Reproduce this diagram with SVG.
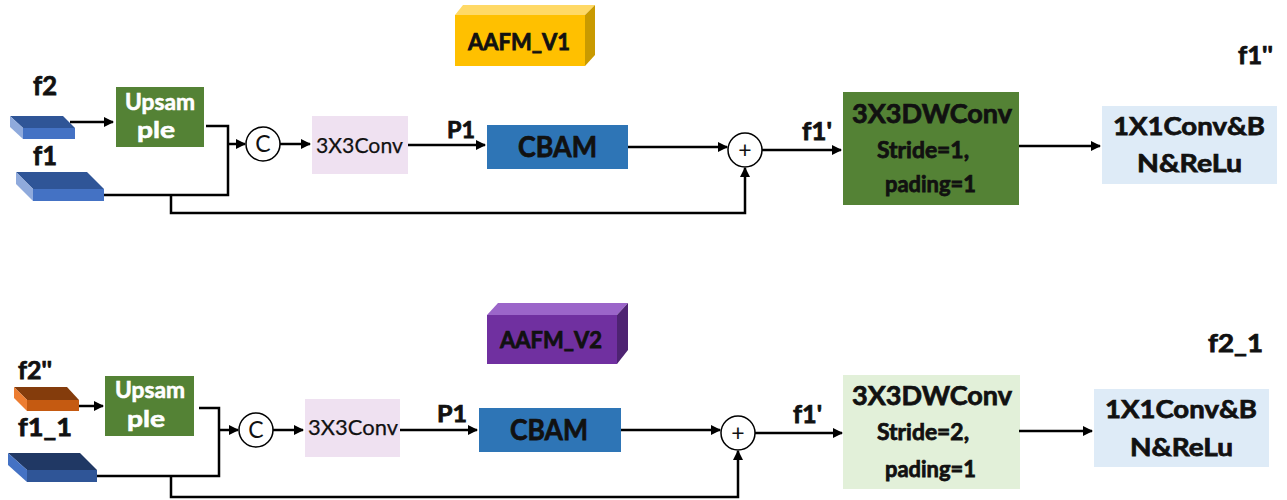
<svg xmlns="http://www.w3.org/2000/svg" width="1287" height="500" viewBox="0 0 1287 500">
  <defs>
    <marker id="arr" viewBox="0 0 10 10" refX="9" refY="5" markerWidth="4" markerHeight="4" orient="auto" markerUnits="strokeWidth">
      <path d="M0,0 L10,5 L0,10 z" fill="#000"/>
    </marker>
    <style>
      text { font-family: Lato, "Open Sans", sans-serif; }
      .t { font-weight: bold; fill: #111; stroke: #111; stroke-width: 0.75; }
      .w { font-weight: bold; fill: #fff; stroke: #fff; stroke-width: 0.6; font-size: 23px; }
      .conv { font-size: 22px; fill: #111; stroke: #111; stroke-width: 0.25; }
      .op { font-size: 23px; fill: #111; text-anchor: middle; }
      .ln { fill: none; stroke: #000; stroke-width: 2.5; }
      .circ { fill: #fff; stroke: #000; stroke-width: 1.5; }
    </style>
  </defs>

  <rect width="1287" height="500" fill="#fff"/>

  <!-- ===== AAFM_V1 ===== -->
  <g id="title-v1">
    <polygon points="463,5 595,5 585,15 455,15" fill="#FFD966"/>
    <polygon points="585,15 595,5 595,55 585,66" fill="#C99A00"/>
    <rect x="455" y="15" width="130" height="51" fill="#FFC000"/>
    <text class="t" x="468" y="50" font-size="22" textLength="102" lengthAdjust="spacingAndGlyphs">AAFM_V1</text>
  </g>

  <g id="in-f2">
    <text class="t" x="33" y="95" font-size="26" textLength="24" lengthAdjust="spacingAndGlyphs">f2</text>
    <polygon points="10,116 63,116 75,128 23,128" fill="#2F5597"/>
    <polygon points="10,116 23,128 23,139 10,127" fill="#8FAADC"/>
    <rect x="23" y="128" width="52" height="11" fill="#4472C4"/>
  </g>

  <g id="in-f1">
    <text class="t" x="33" y="165" font-size="26" textLength="24" lengthAdjust="spacingAndGlyphs">f1</text>
    <polygon points="16,172 87,172 104,189 33,189" fill="#2F5597"/>
    <polygon points="16,172 33,189 33,201 16,184" fill="#8FAADC"/>
    <rect x="33" y="189" width="71" height="12" fill="#4472C4"/>
  </g>

  <g id="upsample-1">
    <rect x="116" y="87" width="88" height="60" fill="#548235"/>
    <text class="w" x="125" y="110" textLength="70" lengthAdjust="spacingAndGlyphs">Upsam</text>
    <text class="w" x="137" y="138" textLength="38" lengthAdjust="spacingAndGlyphs">ple</text>
  </g>

  <g id="concat-1">
    <circle class="circ" cx="263" cy="144" r="17"/>
    <text class="op" x="263" y="152">C</text>
  </g>

  <g id="conv3-1">
    <rect x="312" y="116" width="96" height="58" fill="#EFE1F1"/>
    <text class="conv" x="316" y="153" textLength="87" lengthAdjust="spacingAndGlyphs">3X3Conv</text>
  </g>

  <g id="cbam-1">
    <rect x="487" y="125" width="141" height="44" fill="#2E75B6"/>
    <text class="t" x="518" y="157" font-size="29" textLength="79" lengthAdjust="spacingAndGlyphs">CBAM</text>
  </g>

  <g id="add-1">
    <circle class="circ" cx="745" cy="150" r="17"/>
    <text class="op" x="745" y="158" font-size="26">+</text>
  </g>

  <g id="dwconv-1">
    <rect x="843" y="92" width="176" height="113" fill="#548235"/>
    <text class="t" x="852" y="123" font-size="26.5" textLength="160" lengthAdjust="spacingAndGlyphs">3X3DWConv</text>
    <text class="t" x="877" y="158" font-size="22" textLength="92" lengthAdjust="spacingAndGlyphs">Stride=1,</text>
    <text class="t" x="885" y="192" font-size="22" textLength="91" lengthAdjust="spacingAndGlyphs">pading=1</text>
  </g>

  <g id="pwconv-1">
    <rect x="1102" y="106" width="175" height="78" fill="#DEEBF7"/>
    <text class="t" x="1113" y="135" font-size="25.5" textLength="152" lengthAdjust="spacingAndGlyphs">1X1Conv&amp;B</text>
    <text class="t" x="1137" y="172" font-size="25.5" textLength="105" lengthAdjust="spacingAndGlyphs">N&amp;ReLu</text>
  </g>

  <text id="out-f1pp" class="t" x="1238" y="64" font-size="24" textLength="35" lengthAdjust="spacingAndGlyphs">f1''</text>
  <text class="t" x="447" y="138" font-size="22" textLength="28" lengthAdjust="spacingAndGlyphs">P1</text>
  <text class="t" x="802" y="140" font-size="24" textLength="30" lengthAdjust="spacingAndGlyphs">f1'</text>

  <!-- ===== AAFM_V2 ===== -->
  <g id="title-v2">
    <polygon points="498,303 628,303 617,315 487,315" fill="#9B65C9"/>
    <polygon points="617,315 628,303 628,350 617,364" fill="#4E2372"/>
    <rect x="487" y="315" width="130" height="49" fill="#7030A0"/>
    <text class="t" x="500" y="348" font-size="22" textLength="102" lengthAdjust="spacingAndGlyphs">AAFM_V2</text>
  </g>

  <g id="in-f2pp">
    <text class="t" x="18" y="379" font-size="25" textLength="34" lengthAdjust="spacingAndGlyphs">f2''</text>
    <polygon points="14,387 67,387 79,400 27,400" fill="#843C0C"/>
    <polygon points="14,387 27,400 27,411 14,398" fill="#ED7D31"/>
    <rect x="27" y="400" width="52" height="11" fill="#C55A11"/>
  </g>

  <g id="in-f1_1">
    <text class="t" x="18" y="436" font-size="25" textLength="54" lengthAdjust="spacingAndGlyphs">f1_1</text>
    <polygon points="8,453 80,453 97,470 27,470" fill="#203864"/>
    <polygon points="8,453 27,470 27,482 8,465" fill="#4472C4"/>
    <rect x="27" y="470" width="70" height="12" fill="#2F5597"/>
  </g>

  <g id="upsample-2">
    <rect x="105" y="376" width="89" height="60" fill="#548235"/>
    <text class="w" x="115" y="398" textLength="70" lengthAdjust="spacingAndGlyphs">Upsam</text>
    <text class="w" x="127" y="427" textLength="38" lengthAdjust="spacingAndGlyphs">ple</text>
  </g>

  <g id="concat-2">
    <circle class="circ" cx="256" cy="430" r="17"/>
    <text class="op" x="256" y="438">C</text>
  </g>

  <g id="conv3-2">
    <rect x="305" y="399" width="95" height="58" fill="#EFE1F1"/>
    <text class="conv" x="308" y="435" textLength="90" lengthAdjust="spacingAndGlyphs">3X3Conv</text>
  </g>

  <g id="cbam-2">
    <rect x="479" y="408" width="142" height="44" fill="#2E75B6"/>
    <text class="t" x="510" y="440" font-size="29" textLength="78" lengthAdjust="spacingAndGlyphs">CBAM</text>
  </g>

  <g id="add-2">
    <circle class="circ" cx="738" cy="433" r="17"/>
    <text class="op" x="738" y="441" font-size="26">+</text>
  </g>

  <g id="dwconv-2">
    <rect x="843" y="375" width="177" height="114" fill="#E2F0D9"/>
    <text class="t" x="852" y="405" font-size="26.5" textLength="160" lengthAdjust="spacingAndGlyphs">3X3DWConv</text>
    <text class="t" x="877" y="440" font-size="22" textLength="92" lengthAdjust="spacingAndGlyphs">Stride=2,</text>
    <text class="t" x="885" y="477" font-size="22" textLength="91" lengthAdjust="spacingAndGlyphs">pading=1</text>
  </g>

  <g id="pwconv-2">
    <rect x="1094" y="389" width="175" height="78" fill="#DEEBF7"/>
    <text class="t" x="1105" y="418" font-size="25.5" textLength="152" lengthAdjust="spacingAndGlyphs">1X1Conv&amp;B</text>
    <text class="t" x="1130" y="456" font-size="25.5" textLength="103" lengthAdjust="spacingAndGlyphs">N&amp;ReLu</text>
  </g>

  <text id="out-f2_1" class="t" x="1208" y="352" font-size="24" textLength="55" lengthAdjust="spacingAndGlyphs">f2_1</text>
  <text class="t" x="437" y="422" font-size="22" textLength="30" lengthAdjust="spacingAndGlyphs">P1</text>
  <text class="t" x="793" y="423" font-size="24" textLength="29" lengthAdjust="spacingAndGlyphs">f1'</text>

  <!-- ===== connectors ===== -->
  <g id="connectors">
    <!-- top branch -->
    <line class="ln" x1="70" y1="122" x2="113" y2="122" marker-end="url(#arr)"/>
    <polyline class="ln" points="206,126 228,126 228,195 104,195"/>
    <line class="ln" x1="228" y1="144" x2="245" y2="144" marker-end="url(#arr)"/>
    <line class="ln" x1="280" y1="144" x2="310" y2="144" marker-end="url(#arr)"/>
    <line class="ln" x1="408" y1="145" x2="485" y2="145" marker-end="url(#arr)"/>
    <line class="ln" x1="628" y1="147" x2="727" y2="147" marker-end="url(#arr)"/>
    <polyline class="ln" points="171,195 171,213 745,213 745,168" marker-end="url(#arr)"/>
    <line class="ln" x1="762" y1="150" x2="841" y2="150" marker-end="url(#arr)"/>
    <line class="ln" x1="1019" y1="146" x2="1100" y2="146" marker-end="url(#arr)"/>

    <!-- bottom branch -->
    <line class="ln" x1="79" y1="406" x2="103" y2="406" marker-end="url(#arr)"/>
    <polyline class="ln" points="199,408 219,408 219,476 97,476"/>
    <line class="ln" x1="219" y1="430" x2="238" y2="430" marker-end="url(#arr)"/>
    <line class="ln" x1="273" y1="430" x2="303" y2="430" marker-end="url(#arr)"/>
    <line class="ln" x1="400" y1="430" x2="477" y2="430" marker-end="url(#arr)"/>
    <line class="ln" x1="621" y1="430" x2="720" y2="430" marker-end="url(#arr)"/>
    <polyline class="ln" points="171,476 171,497 738,497 738,451" marker-end="url(#arr)"/>
    <line class="ln" x1="755" y1="433" x2="842" y2="433" marker-end="url(#arr)"/>
    <line class="ln" x1="1019" y1="431" x2="1092" y2="431" marker-end="url(#arr)"/>
  </g>
</svg>
